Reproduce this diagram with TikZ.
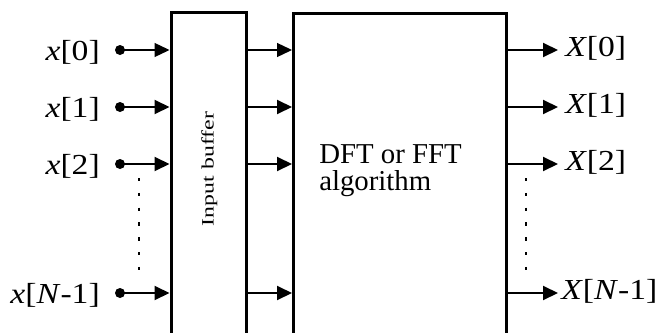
\documentclass[tikz,border=0pt]{standalone}
\usepackage{fontspec}
\setmainfont{Liberation Serif}
\usetikzlibrary{arrows.meta}

\begin{document}
\begin{tikzpicture}[x=0.75pt, y=-0.75pt,
  box/.style={draw, line width=2.25pt, inner sep=0pt},
  dot/.style={circle, fill, inner sep=0pt, minimum size=7.5pt},
  sig/.style={line width=1.5pt, -{Triangle[length=11.25pt, width=10.5pt]}},
  thinsig/.style={sig, line width=1pt},
  dots/.style={line width=1.6pt, dash pattern=on 2.5pt off 8.6pt},
  lab/.style={inner sep=0pt, font=\fontsize{21.75}{24}\selectfont}]

\useasboundingbox (0,0) rectangle (660,332);
\clip (0,0) rectangle (660,332);

% the two blocks (they run past the lower edge)
\node[box, minimum width=56.6pt, minimum height=251pt, anchor=north west] (buf) at (169.5,10.5) {};
\node[box, minimum width=159.75pt, minimum height=251pt, anchor=north west] (dft) at (292,11.5) {};

\node[rotate=90, anchor=base, inner sep=0pt] (buftext) at (213.5,169)
  {\resizebox{85.5pt}{9.2pt}{\fontsize{14}{16}\selectfont Input buffer}};
\node[align=left, anchor=north west, inner sep=0pt,
      font=\fontsize{21.6}{20.25}\selectfont] (dfttext) at (319,144.5)
  {DFT or FFT\\algorithm};

% input samples
\node[dot] (d0) at (120,50) {};
\node[dot] (d1) at (120,107) {};
\node[dot] (d2) at (120,164) {};
\node[dot] (d3) at (120,293) {};

\node[lab, anchor=base east] (x0) at (100,60) {\scalebox{1.16}[1]{\textit{x}[0]}};
\node[lab, anchor=base east] (x1) at (100,117) {\scalebox{1.16}[1]{\textit{x}[1]}};
\node[lab, anchor=base east] (x2) at (100,174) {\scalebox{1.16}[1]{\textit{x}[2]}};
\node[lab, anchor=base east] (x3) at (100,303) {\scalebox{1.16}[1]{\textit{x}[\textit{N}-1]}};

\draw[thinsig] (d0.center) -- (buf.west |- d0);
\draw[sig] (d1.center) -- (buf.west |- d1);
\draw[sig] (d2.center) -- (buf.west |- d2);
\draw[sig] (d3.center) -- (buf.west |- d3);

% buffer to transform
\draw[thinsig] (buf.east |- d0) -- (dft.west |- d0);
\draw[sig] (buf.east |- d1) -- (dft.west |- d1);
\draw[sig] (buf.east |- d2) -- (dft.west |- d2);
\draw[sig] (buf.east |- d3) -- (dft.west |- d3);

% outputs
\coordinate (o0) at (558,50);
\coordinate (o1) at (558,107);
\coordinate (o2) at (558,164);
\coordinate (o3) at (558,293);
\draw[sig] (dft.east |- o0) -- (o0);
\draw[sig] (dft.east |- o1) -- (o1);
\draw[sig] (dft.east |- o2) -- (o2);
\draw[sig] (dft.east |- o3) -- (o3);

\node[lab, anchor=base west] (X0) at (565,56) {\scalebox{1.16}[1]{\textit{X}[0]}};
\node[lab, anchor=base west] (X1) at (565,113) {\scalebox{1.16}[1]{\textit{X}[1]}};
\node[lab, anchor=base west] (X2) at (565,170) {\scalebox{1.16}[1]{\textit{X}[2]}};
\node[lab, anchor=base west] (X3) at (561,299) {\scalebox{1.16}[1]{\textit{X}[\textit{N}-1]}};

% ellipsis lines
\coordinate (ia) at (139,178);
\coordinate (ib) at (139,270);
\coordinate (oa) at (526,178);
\coordinate (ob) at (526,270);
\draw[dots] (ia) -- (ib);
\draw[dots] (oa) -- (ob);
\end{tikzpicture}
\end{document}
